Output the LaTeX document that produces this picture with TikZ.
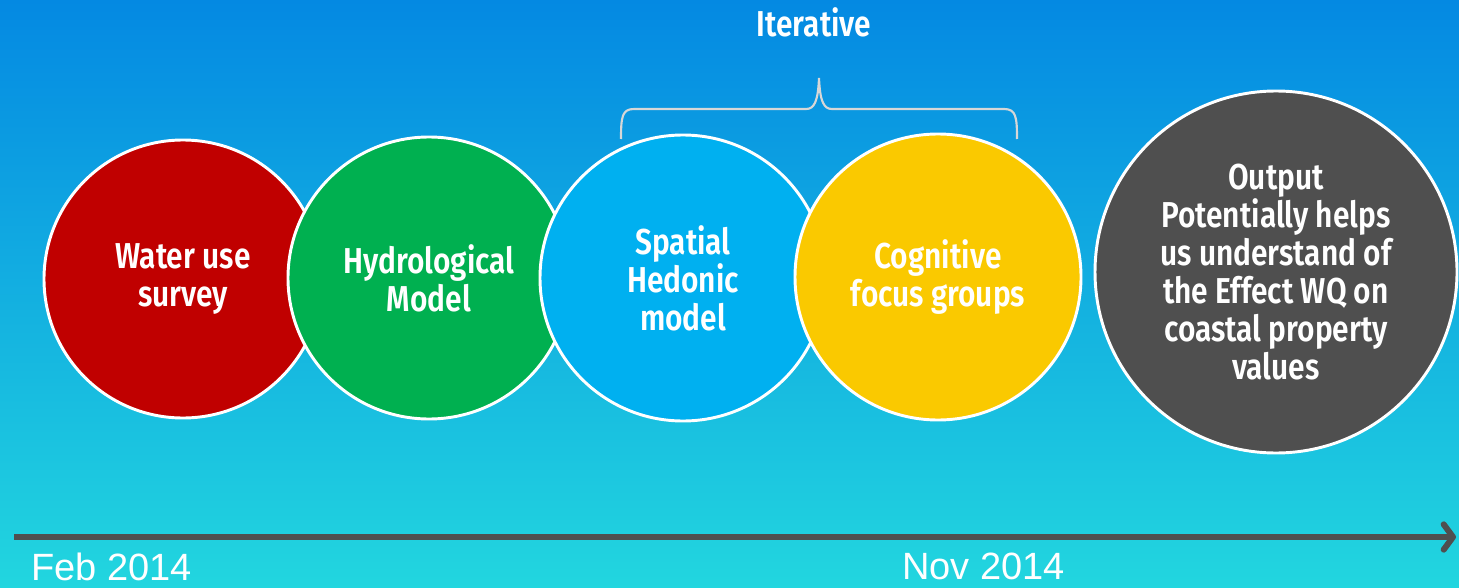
\documentclass[tikz,border=0pt]{standalone}
\usepackage{fontspec}
\setmainfont{Liberation Sans}
\newfontfamily\condfont{Fira Sans SemiBold}[FakeStretch=0.83]
\usetikzlibrary{arrows.meta}
\definecolor{bgtop}{RGB}{4,137,226}
\definecolor{bgbot}{RGB}{34,214,223}
\definecolor{cred}{RGB}{192,0,0}
\definecolor{cgreen}{RGB}{0,176,80}
\definecolor{cblue}{RGB}{0,176,240}
\definecolor{cyellow}{RGB}{250,201,0}
\definecolor{cgray}{RGB}{79,79,79}
\definecolor{bracegray}{RGB}{215,215,215}
\tikzset{
  stage/.style={circle, draw=white, line width=2.2pt, inner sep=0pt,
    text=white, align=center, font=\condfont\fontsize{27pt}{28.5pt}\selectfont},
  datelabel/.style={text=white, inner sep=0pt, anchor=base west,
    font=\fontsize{28.5pt}{30pt}\selectfont},
  titlelabel/.style={text=white, inner sep=0pt, anchor=base,
    font=\condfont\fontsize{27pt}{28.5pt}\selectfont},
  bracestyle/.style={draw=bracegray, line width=1.6pt},
  timeline/.style={draw=cgray, line width=4.5pt,
    -{Straight Barb[length=7pt,width=19pt,line cap=round,line join=round]}}
}
\begin{document}
\begin{tikzpicture}[x=0.75pt,y=-0.75pt]
\useasboundingbox (0,0) rectangle (1459,588);
\shade[top color=bgtop, bottom color=bgbot] (0,0) rectangle (1459,588);

\node[stage, fill=cred, minimum size=208.5pt] (water) at (183,279) {Water use\\survey};
\node[stage, fill=cgreen, minimum size=211.5pt] (hydro) at (429,278) {Hydrological\\Model};
\node[stage, fill=cblue, minimum size=214.5pt] (spatial) at (683,278) {Spatial\\Hedonic\\model};
\node[stage, fill=cyellow, minimum size=214.5pt] (cog) at (938,277) {Cognitive\\focus groups};
\node[stage, fill=cgray, minimum size=271.5pt] (out) at (1276,272) {Output\\Potentially helps\\us understand of\\the Effect WQ on\\coastal property\\values};

\node[titlelabel] (iter) at (814,37) {Iterative};

\coordinate (bl) at (621,139);
\coordinate (br) at (1017,139);
\coordinate (btip) at (819,78);
\draw[bracestyle] (bl) .. controls (621,117) and (622,109) .. (634,109)
  -- (806,109) .. controls (814,109) and (818,102) .. (btip)
  .. controls (820,102) and (824,109) .. (832,109)
  -- (1004,109) .. controls (1016,109) and (1017,117) .. (br);

\coordinate (tstart) at (14,537);
\coordinate (tend) at (1456,537);
\draw[timeline] (tstart) -- (tend);

\node[datelabel] (feb) at (31,580) {Feb 2014};
\node[datelabel] (nov) at (902,579) {Nov 2014};
\end{tikzpicture}
\end{document}
